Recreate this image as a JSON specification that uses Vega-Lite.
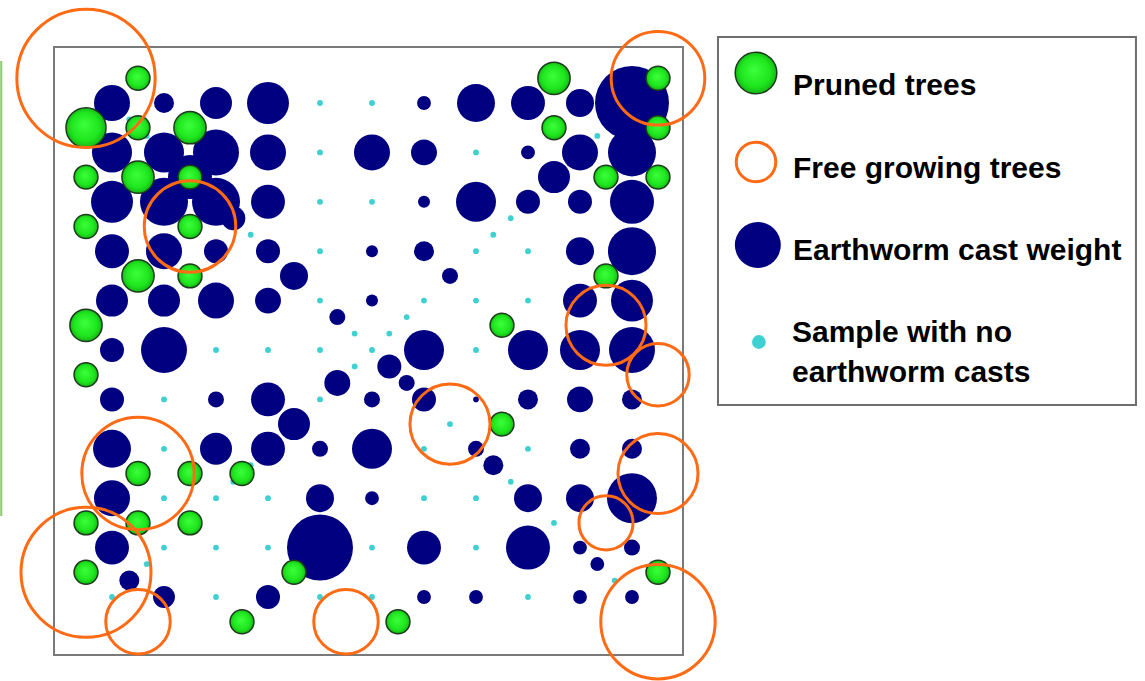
{
  "$schema": "https://vega.github.io/schema/vega-lite/v6.json",
  "width": 629,
  "height": 608,
  "autosize": "none",
  "padding": {"left": 54, "top": 47, "right": 462, "bottom": 26},
  "background": "white",
  "config": {"view": {"stroke": "#7a7a7a", "strokeWidth": 2}},
  "datasets": {
    "samples": [
      {"x":0,"y":0,"cast":81},{"x":1,"y":0,"cast":25},{"x":2,"y":0,"cast":64},{"x":3,"y":0,"cast":110},{"x":4,"y":0,"cast":0},{"x":5,"y":0,"cast":0},{"x":6,"y":0,"cast":12},{"x":7,"y":0,"cast":90},{"x":8,"y":0,"cast":72},{"x":9,"y":0,"cast":49},{"x":10,"y":0,"cast":342},
      {"x":0,"y":1,"cast":100},{"x":1,"y":1,"cast":100},{"x":2,"y":1,"cast":132},{"x":3,"y":1,"cast":81},{"x":4,"y":1,"cast":0},{"x":5,"y":1,"cast":81},{"x":6,"y":1,"cast":42},{"x":7,"y":1,"cast":0},{"x":8,"y":1,"cast":12},{"x":9,"y":1,"cast":81},{"x":10,"y":1,"cast":144},
      {"x":0,"y":2,"cast":110},{"x":1,"y":2,"cast":144},{"x":2,"y":2,"cast":144},{"x":3,"y":2,"cast":72},{"x":4,"y":2,"cast":0},{"x":5,"y":2,"cast":0},{"x":6,"y":2,"cast":9},{"x":7,"y":2,"cast":100},{"x":8,"y":2,"cast":36},{"x":9,"y":2,"cast":36},{"x":10,"y":2,"cast":121},
      {"x":0,"y":3,"cast":72},{"x":1,"y":3,"cast":81},{"x":2,"y":3,"cast":36},{"x":3,"y":3,"cast":36},{"x":4,"y":3,"cast":0},{"x":5,"y":3,"cast":9},{"x":6,"y":3,"cast":25},{"x":7,"y":3,"cast":0},{"x":8,"y":3,"cast":0},{"x":9,"y":3,"cast":49},{"x":10,"y":3,"cast":144},
      {"x":0,"y":4,"cast":64},{"x":1,"y":4,"cast":64},{"x":2,"y":4,"cast":81},{"x":3,"y":4,"cast":42},{"x":4,"y":4,"cast":0},{"x":5,"y":4,"cast":9},{"x":6,"y":4,"cast":0},{"x":7,"y":4,"cast":0},{"x":8,"y":4,"cast":0},{"x":9,"y":4,"cast":72},{"x":10,"y":4,"cast":110},
      {"x":0,"y":5,"cast":36},{"x":1,"y":5,"cast":132},{"x":2,"y":5,"cast":0},{"x":3,"y":5,"cast":0},{"x":4,"y":5,"cast":0},{"x":5,"y":5,"cast":0},{"x":6,"y":5,"cast":100},{"x":7,"y":5,"cast":0},{"x":8,"y":5,"cast":100},{"x":9,"y":5,"cast":100},{"x":10,"y":5,"cast":132},
      {"x":0,"y":6,"cast":36},{"x":1,"y":6,"cast":0},{"x":2,"y":6,"cast":16},{"x":3,"y":6,"cast":72},{"x":4,"y":6,"cast":0},{"x":5,"y":6,"cast":16},{"x":6,"y":6,"cast":36},{"x":7,"y":6,"cast":2},{"x":8,"y":6,"cast":25},{"x":9,"y":6,"cast":42},{"x":10,"y":6,"cast":25},
      {"x":0,"y":7,"cast":90},{"x":1,"y":7,"cast":0},{"x":2,"y":7,"cast":64},{"x":3,"y":7,"cast":72},{"x":4,"y":7,"cast":16},{"x":5,"y":7,"cast":100},{"x":6,"y":7,"cast":0},{"x":7,"y":7,"cast":16},{"x":8,"y":7,"cast":0},{"x":9,"y":7,"cast":25},{"x":10,"y":7,"cast":25},
      {"x":0,"y":8,"cast":81},{"x":1,"y":8,"cast":0},{"x":2,"y":8,"cast":0},{"x":3,"y":8,"cast":0},{"x":4,"y":8,"cast":49},{"x":5,"y":8,"cast":12},{"x":6,"y":8,"cast":0},{"x":7,"y":8,"cast":0},{"x":8,"y":8,"cast":49},{"x":9,"y":8,"cast":49},{"x":10,"y":8,"cast":156},
      {"x":0,"y":9,"cast":72},{"x":1,"y":9,"cast":0},{"x":2,"y":9,"cast":0},{"x":3,"y":9,"cast":0},{"x":4,"y":9,"cast":272},{"x":5,"y":9,"cast":0},{"x":6,"y":9,"cast":72},{"x":7,"y":9,"cast":0},{"x":8,"y":9,"cast":121},{"x":9,"y":9,"cast":12},{"x":10,"y":9,"cast":16},
      {"x":0,"y":10,"cast":0},{"x":1,"y":10,"cast":30},{"x":2,"y":10,"cast":0},{"x":3,"y":10,"cast":36},{"x":4,"y":10,"cast":0},{"x":5,"y":10,"cast":0},{"x":6,"y":10,"cast":12},{"x":7,"y":10,"cast":12},{"x":8,"y":10,"cast":0},{"x":9,"y":10,"cast":12},{"x":10,"y":10,"cast":12},
      {"x":4.667,"y":4.667,"cast":0},{"x":4.333,"y":4.333,"cast":16},{"x":3.5,"y":3.5,"cast":49},{"x":2.667,"y":2.667,"cast":0},{"x":2.333,"y":2.333,"cast":36},{"x":1.5,"y":1.5,"cast":121},{"x":0.667,"y":0.667,"cast":0},{"x":0.333,"y":0.333,"cast":0},
      {"x":5.333,"y":4.667,"cast":0},{"x":5.667,"y":4.333,"cast":0},{"x":6.5,"y":3.5,"cast":16},{"x":7.333,"y":2.667,"cast":0},{"x":7.667,"y":2.333,"cast":0},{"x":8.5,"y":1.5,"cast":64},{"x":9.333,"y":0.667,"cast":0},{"x":9.667,"y":0.333,"cast":0},
      {"x":4.667,"y":5.333,"cast":0},{"x":4.333,"y":5.667,"cast":42},{"x":3.5,"y":6.5,"cast":64},{"x":2.667,"y":7.333,"cast":0},{"x":2.333,"y":7.667,"cast":0},{"x":1.5,"y":8.5,"cast":0},{"x":0.667,"y":9.333,"cast":0},{"x":0.333,"y":9.667,"cast":25},
      {"x":5.333,"y":5.333,"cast":36},{"x":5.667,"y":5.667,"cast":16},{"x":6.5,"y":6.5,"cast":0},{"x":7.333,"y":7.333,"cast":25},{"x":7.667,"y":7.667,"cast":0},{"x":8.5,"y":8.5,"cast":0},{"x":9.333,"y":9.333,"cast":12},{"x":9.667,"y":9.667,"cast":0}
    ],
    "pruned": [
      {"x":0.5,"y":-0.5,"crown":0.23},{"x":-0.5,"y":0.5,"crown":0.385},{"x":0.5,"y":0.5,"crown":0.23},{"x":1.5,"y":0.5,"crown":0.31},
      {"x":-0.5,"y":1.5,"crown":0.23},{"x":0.5,"y":1.5,"crown":0.31},{"x":1.5,"y":1.5,"crown":0.23},{"x":-0.5,"y":2.5,"crown":0.23},
      {"x":1.5,"y":2.5,"crown":0.23},{"x":0.5,"y":3.5,"crown":0.31},{"x":1.5,"y":3.5,"crown":0.23},{"x":-0.5,"y":4.5,"crown":0.31},
      {"x":-0.5,"y":5.5,"crown":0.23},{"x":0.5,"y":7.5,"crown":0.23},{"x":1.5,"y":7.5,"crown":0.23},{"x":2.5,"y":7.5,"crown":0.23},
      {"x":-0.5,"y":8.5,"crown":0.23},{"x":0.5,"y":8.5,"crown":0.23},{"x":1.5,"y":8.5,"crown":0.23},{"x":-0.5,"y":9.5,"crown":0.23},
      {"x":3.5,"y":9.5,"crown":0.23},{"x":2.5,"y":10.5,"crown":0.23},{"x":5.5,"y":10.5,"crown":0.23},{"x":7.5,"y":6.5,"crown":0.23},
      {"x":7.5,"y":4.5,"crown":0.23},{"x":8.5,"y":-0.5,"crown":0.31},{"x":10.5,"y":-0.5,"crown":0.23},{"x":8.5,"y":0.5,"crown":0.23},
      {"x":10.5,"y":0.5,"crown":0.23},{"x":9.5,"y":1.5,"crown":0.23},{"x":10.5,"y":1.5,"crown":0.23},{"x":9.5,"y":3.5,"crown":0.23},
      {"x":10.5,"y":9.5,"crown":0.23}
    ],
    "free": [
      {"x":-0.5,"y":-0.5,"crown":1.33},{"x":1.5,"y":2.5,"crown":0.88},{"x":10.5,"y":-0.5,"crown":0.9},{"x":9.5,"y":4.5,"crown":0.77},
      {"x":10.5,"y":5.5,"crown":0.6},{"x":6.5,"y":6.5,"crown":0.77},{"x":0.5,"y":7.5,"crown":1.08},{"x":10.5,"y":7.5,"crown":0.77},
      {"x":9.5,"y":8.5,"crown":0.52},{"x":-0.5,"y":9.5,"crown":1.25},{"x":0.5,"y":10.5,"crown":0.62},{"x":4.5,"y":10.5,"crown":0.62},
      {"x":10.5,"y":10.5,"crown":1.1}
    ]
  },
  "encoding": {
    "x": {"field": "x", "type": "quantitative", "axis": null, "scale": {"domain": [-1.1154, 10.981], "nice": false, "zero": false}},
    "y": {"field": "y", "type": "quantitative", "axis": null, "scale": {"domain": [-1.1336, 11.174], "nice": false, "zero": false, "reverse": true}}
  },
  "layer": [
    {
      "data": {"values": [{"x": -2.13, "y": -0.85, "y2": 8.36}]},
      "mark": {"type": "rule", "color": "#8cc86e", "strokeWidth": 2},
      "encoding": {"y2": {"field": "y2"}}
    },
    {
      "data": {"values": [{"x": 11.654, "x2": 19.692, "y": -1.336, "y2": 6.113}]},
      "mark": {"type": "rect", "fill": "white", "stroke": "#6e6e6e", "strokeWidth": 2},
      "encoding": {"x2": {"field": "x2"}, "y2": {"field": "y2"}}
    },
    {
      "data": {"name": "samples"},
      "transform": [{"filter": "datum.cast == 0"}],
      "mark": {"type": "circle", "color": "#3fd0d2", "opacity": 1, "size": 34}
    },
    {
      "data": {"name": "samples"},
      "transform": [{"filter": "datum.cast > 0"}],
      "mark": {"type": "circle", "color": "#000080", "opacity": 1},
      "encoding": {"size": {"field": "cast", "type": "quantitative", "legend": null, "scale": {"type": "linear", "domain": [0, 100], "range": [0, 1600]}}}
    },
    {
      "data": {"name": "pruned"},
      "mark": {"type": "point", "shape": "circle", "filled": true, "opacity": 1,
        "fill": {"gradient": "radial", "x1": 0.45, "y1": 0.42, "r1": 0, "x2": 0.5, "y2": 0.5, "r2": 0.55,
          "stops": [{"offset": 0, "color": "#3cff3c"}, {"offset": 0.65, "color": "#1ee61e"}, {"offset": 1, "color": "#12a812"}]},
        "stroke": "#1c3a1c", "strokeWidth": 1.5},
      "encoding": {"size": {"field": "crown", "type": "quantitative", "legend": null, "scale": {"type": "pow", "exponent": 2, "domain": [0, 1], "range": [0, 10816]}}}
    },
    {
      "data": {"name": "free"},
      "mark": {"type": "point", "shape": "circle", "filled": false, "opacity": 1, "color": "#ff6a14", "strokeWidth": 3},
      "encoding": {"size": {"field": "crown", "type": "quantitative", "legend": null, "scale": {"type": "pow", "exponent": 2, "domain": [0, 1], "range": [0, 10816]}}}
    },
    {
      "data": {"values": [{"x": 12.385, "y": -0.607, "crown": 0.4}]},
      "mark": {"type": "point", "shape": "circle", "filled": true, "opacity": 1,
        "fill": {"gradient": "radial", "x1": 0.45, "y1": 0.42, "r1": 0, "x2": 0.5, "y2": 0.5, "r2": 0.55,
          "stops": [{"offset": 0, "color": "#3cff3c"}, {"offset": 0.65, "color": "#1ee61e"}, {"offset": 1, "color": "#12a812"}]},
        "stroke": "#1c3a1c", "strokeWidth": 1.5},
      "encoding": {"size": {"field": "crown", "type": "quantitative", "legend": null, "scale": {"type": "pow", "exponent": 2, "domain": [0, 1], "range": [0, 10816]}}}
    },
    {
      "data": {"values": [{"x": 12.385, "y": 1.194, "crown": 0.38}]},
      "mark": {"type": "point", "shape": "circle", "filled": false, "opacity": 1, "color": "#ff6a14", "strokeWidth": 3},
      "encoding": {"size": {"field": "crown", "type": "quantitative", "legend": null, "scale": {"type": "pow", "exponent": 2, "domain": [0, 1], "range": [0, 10816]}}}
    },
    {
      "data": {"values": [{"x": 12.42, "y": 2.874, "cast": 132}]},
      "mark": {"type": "circle", "color": "#000080", "opacity": 1},
      "encoding": {"size": {"field": "cast", "type": "quantitative", "legend": null, "scale": {"type": "linear", "domain": [0, 100], "range": [0, 1600]}}}
    },
    {
      "data": {"values": [{"x": 12.44, "y": 4.838}]},
      "mark": {"type": "circle", "color": "#3fd0d2", "opacity": 1, "size": 190}
    },
    {
      "data": {"values": [
        {"x": 13.096, "y": -0.162, "label": "Pruned trees"},
        {"x": 13.096, "y": 1.524, "label": "Free growing trees"},
        {"x": 13.096, "y": 3.178, "label": "Earthworm cast weight"},
        {"x": 13.077, "y": 4.832, "label": "Sample with no\nearthworm casts"}
      ]},
      "mark": {"type": "text", "align": "left", "baseline": "alphabetic", "font": "Liberation Sans", "fontWeight": "bold", "fontSize": 30, "color": "black", "lineBreak": "\n", "lineHeight": 40},
      "encoding": {"text": {"field": "label"}}
    }
  ],
  "resolve": {"scale": {"size": "independent"}}
}
